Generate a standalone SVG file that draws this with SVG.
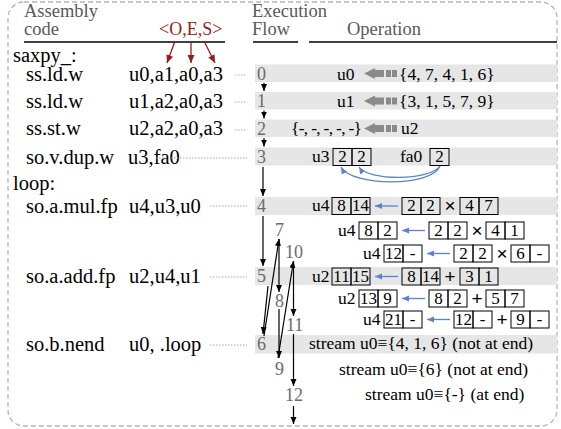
<svg xmlns="http://www.w3.org/2000/svg" width="561" height="429" viewBox="0 0 561 429">
<defs>
<style>
text{font-family:"Liberation Serif",serif}
.code{font-size:20.5px;fill:#000}
.hdr{font-size:18.5px;fill:#595959}
.num{font-size:18px;fill:#6b6b6b}
.op{font-size:17.5px;fill:#000}
.bx{font-size:17px;fill:#000;text-anchor:middle}
.sym{font-family:"Liberation Sans",sans-serif;font-size:19px;fill:#000;text-anchor:middle}
.box{fill:none;stroke:#000;stroke-width:1}
.band{fill:#e6e6e6}
.dot{stroke:#a8a8a8;stroke-width:1;stroke-dasharray:1.5 1.5}
.flow{stroke:#000;stroke-width:1.2;fill:none;marker-end:url(#ah)}
.blue{stroke:#5a82d4;stroke-width:1.3;fill:none;marker-end:url(#bh)}
.red{stroke:#9b1b1b;stroke-width:1.3;marker-end:url(#rh)}
.ul{stroke:#000;stroke-width:1.5}
.garrow{fill:#8a8a8a}
</style>
<marker id="ah" markerWidth="8" markerHeight="8" refX="7" refY="4" orient="auto" markerUnits="userSpaceOnUse"><path d="M0,1 L7,4 L0,7 z" fill="#000"/></marker>
<marker id="bh" markerWidth="8" markerHeight="8" refX="7" refY="4" orient="auto" markerUnits="userSpaceOnUse"><path d="M0,1 L7,4 L0,7 z" fill="#5a82d4"/></marker>
<marker id="rh" markerWidth="9" markerHeight="9" refX="8" refY="4.5" orient="auto" markerUnits="userSpaceOnUse"><path d="M0,1 L8,4.5 L0,8 z" fill="#9b1b1b"/></marker>
<g id="gar"><path d="M0,0 L11,-5.5 L11,-3.5 L20,-3.5 L20,3.5 L11,3.5 L11,5.5 Z"/><rect x="22" y="-3.5" width="5" height="7"/><rect x="28" y="-3.5" width="5" height="7"/></g>
</defs>

<rect x="8" y="2" width="549" height="424" rx="16" fill="none" stroke="#b5b5b5" stroke-width="1.3" stroke-dasharray="5 3"/>

<g id="header">
<text class="hdr" x="24" y="17">Assembly</text>
<text class="hdr" x="24" y="35">code</text>
<text x="159" y="35" style="font-size:18px;fill:#9b1b1b">&lt;O,E,S&gt;</text>
<text class="hdr" x="252" y="17">Execution</text>
<text class="hdr" x="252" y="35">Flow</text>
<text class="hdr" x="347" y="35">Operation</text>
<line class="ul" x1="24" y1="42" x2="225" y2="42"/>
<line class="ul" x1="253" y1="42" x2="298" y2="42"/>
<line class="ul" x1="309" y1="42" x2="557" y2="42"/>
</g>

<g id="bands">
<rect class="band" x="255" y="64.5" width="302" height="17.5"/>
<rect class="band" x="255" y="92" width="302" height="17.5"/>
<rect class="band" x="255" y="119.5" width="302" height="17.5"/>
<rect class="band" x="255" y="147.5" width="302" height="18"/>
<rect class="band" x="255" y="197" width="302" height="18"/>
<rect class="band" x="255" y="267" width="302" height="18"/>
<rect class="band" x="255" y="335" width="302" height="18.5"/>
</g>

<g id="code">
<text class="code" x="13" y="62">saxpy_:</text>
<g id="c0"><text class="code" x="26" y="81">ss.ld.w</text><text class="code" x="129" y="81">u0,a1,a0,a3</text></g>
<g id="c1"><text class="code" x="26" y="108">ss.ld.w</text><text class="code" x="129" y="108">u1,a2,a0,a3</text></g>
<g id="c2"><text class="code" x="26" y="135">ss.st.w</text><text class="code" x="129" y="135">u2,a2,a0,a3</text></g>
<g id="c3"><text class="code" x="26" y="164">so.v.dup.w</text><text class="code" x="128" y="164">u3,fa0</text></g>
<text class="code" x="13" y="190">loop:</text>
<g id="c4"><text class="code" x="26" y="213">so.a.mul.fp</text><text class="code" x="129" y="213">u4,u3,u0</text></g>
<g id="c5"><text class="code" x="26" y="283">so.a.add.fp</text><text class="code" x="129" y="283">u2,u4,u1</text></g>
<g id="c6"><text class="code" x="26" y="351">so.b.nend</text><text class="code" x="129" y="351">u0, .loop</text></g>
</g>

<g id="numbers">
<text class="num" x="257" y="80">0</text>
<text class="num" x="257" y="107">1</text>
<text class="num" x="257" y="135">2</text>
<text class="num" x="257" y="163">3</text>
<text class="num" x="257" y="212">4</text>
<text class="num" x="257" y="282">5</text>
<text class="num" x="257" y="350">6</text>
<text class="num" x="275" y="236">7</text>
<text class="num" x="275" y="307">8</text>
<text class="num" x="275" y="375">9</text>
<text class="num" x="285" y="258">10</text>
<text class="num" x="286" y="331">11</text>
<text class="num" x="285" y="401">12</text>
</g>

<g id="connectors">
<line class="red" x1="175" y1="41" x2="167" y2="63"/>
<line class="red" x1="191" y1="41" x2="191" y2="63"/>
<line class="red" x1="204" y1="41" x2="215" y2="63"/>
<line class="dot" x1="235" y1="75" x2="247" y2="75"/>
<line class="dot" x1="235" y1="102" x2="247" y2="102"/>
<line class="dot" x1="235" y1="130" x2="247" y2="130"/>
<line class="dot" x1="156" y1="158" x2="247" y2="158"/>
<line class="dot" x1="210" y1="206" x2="247" y2="206"/>
<line class="dot" x1="210" y1="277" x2="247" y2="277"/>
<line class="dot" x1="210" y1="345" x2="247" y2="345"/>
<line class="flow" x1="264" y1="83" x2="264" y2="91"/>
<line class="flow" x1="264" y1="110.5" x2="264" y2="118.5"/>
<line class="flow" x1="264" y1="138" x2="264" y2="146.5"/>
<line class="flow" x1="263" y1="167" x2="263" y2="196"/>
<line class="flow" x1="263" y1="216" x2="263" y2="266"/>
<line class="flow" x1="268" y1="286" x2="263" y2="334"/>
<line class="flow" x1="264" y1="336" x2="279" y2="239"/>
<line class="flow" x1="279" y1="239" x2="279" y2="292"/>
<line class="flow" x1="279" y1="309" x2="279" y2="358"/>
<line class="flow" x1="278" y1="358" x2="293.5" y2="261"/>
<line class="flow" x1="293.5" y1="261" x2="293.5" y2="316"/>
<line class="flow" x1="293.5" y1="334" x2="293.5" y2="386"/>
<line class="flow" x1="293.5" y1="406" x2="293.5" y2="424"/>
<path class="blue" d="M440,166 C432,187 352,187 341,167"/>
<path class="blue" d="M440,166 C430,181 368,181 359,167"/>
<line class="blue" x1="398" y1="206" x2="375" y2="206"/>
<line class="blue" x1="425" y1="230.5" x2="402" y2="230.5"/>
<line class="blue" x1="450" y1="253.5" x2="427" y2="253.5"/>
<line class="blue" x1="398" y1="276.5" x2="375" y2="276.5"/>
<line class="blue" x1="425" y1="298.5" x2="402" y2="298.5"/>
<line class="blue" x1="450" y1="319.5" x2="427" y2="319.5"/>
</g>

<g id="op0"><text class="op" x="337" y="80">u0</text><use href="#gar" class="garrow" x="364" y="73.5"/><text class="op" x="399" y="80">{4, 7, 4, 1, 6}</text></g>
<g id="op1"><text class="op" x="337" y="107">u1</text><use href="#gar" class="garrow" x="364" y="101"/><text class="op" x="399" y="107">{3, 1, 5, 7, 9}</text></g>
<g id="op2"><text class="op" x="291" y="134" textLength="71">{-, -, -, -, -}</text><use href="#gar" class="garrow" x="364" y="128.5"/><text class="op" x="401" y="134">u2</text></g>
<g id="op3"><text class="op" x="312" y="162">u3</text>
<rect class="box" x="333" y="148.5" width="19" height="17"/><rect class="box" x="352" y="148.5" width="19" height="17"/>
<text class="bx" x="342.5" y="162">2</text><text class="bx" x="361.5" y="162">2</text>
<text class="op" x="400" y="162">fa0</text>
<rect class="box" x="430" y="148.5" width="19" height="17"/><text class="bx" x="439.5" y="162">2</text></g>

<g id="op4"><text class="op" x="312" y="211">u4</text>
<rect class="box" x="332" y="197.5" width="19" height="17"/><rect class="box" x="351" y="197.5" width="19" height="17"/>
<text class="bx" x="341.5" y="211">8</text><text class="bx" x="360.5" y="211">14</text>
<rect class="box" x="402" y="197.5" width="19" height="17"/><rect class="box" x="421" y="197.5" width="19" height="17"/>
<text class="bx" x="411.5" y="211">2</text><text class="bx" x="430.5" y="211">2</text>
<text class="sym" x="450" y="212">×</text>
<rect class="box" x="460" y="197.5" width="19" height="17"/><rect class="box" x="479" y="197.5" width="19" height="17"/>
<text class="bx" x="469.5" y="211">4</text><text class="bx" x="488.5" y="211">7</text></g>

<g id="op7"><text class="op" x="338" y="235.5">u4</text>
<rect class="box" x="359" y="222" width="19" height="17"/><rect class="box" x="378" y="222" width="19" height="17"/>
<text class="bx" x="368.5" y="235.5">8</text><text class="bx" x="387.5" y="235.5">2</text>
<rect class="box" x="429" y="222" width="19" height="17"/><rect class="box" x="448" y="222" width="19" height="17"/>
<text class="bx" x="438.5" y="235.5">2</text><text class="bx" x="457.5" y="235.5">2</text>
<text class="sym" x="477" y="236.5">×</text>
<rect class="box" x="486" y="222" width="19" height="17"/><rect class="box" x="505" y="222" width="19" height="17"/>
<text class="bx" x="495.5" y="235.5">4</text><text class="bx" x="514.5" y="235.5">1</text></g>

<g id="op10"><text class="op" x="363" y="258.5">u4</text>
<rect class="box" x="384" y="245" width="19" height="17"/><rect class="box" x="403" y="245" width="19" height="17"/>
<text class="bx" x="393.5" y="258.5">12</text><text class="bx" x="412.5" y="258.5">-</text>
<rect class="box" x="454" y="245" width="19" height="17"/><rect class="box" x="473" y="245" width="19" height="17"/>
<text class="bx" x="463.5" y="258.5">2</text><text class="bx" x="482.5" y="258.5">2</text>
<text class="sym" x="502" y="259.5">×</text>
<rect class="box" x="511" y="245" width="19" height="17"/><rect class="box" x="530" y="245" width="19" height="17"/>
<text class="bx" x="520.5" y="258.5">6</text><text class="bx" x="539.5" y="258.5">-</text></g>

<g id="op5"><text class="op" x="312" y="281.5">u2</text>
<rect class="box" x="332" y="268" width="19" height="17"/><rect class="box" x="351" y="268" width="19" height="17"/>
<text class="bx" x="341.5" y="281.5">11</text><text class="bx" x="360.5" y="281.5">15</text>
<rect class="box" x="402" y="268" width="19" height="17"/><rect class="box" x="421" y="268" width="19" height="17"/>
<text class="bx" x="411.5" y="281.5">8</text><text class="bx" x="430.5" y="281.5">14</text>
<text class="sym" x="450" y="282.5">+</text>
<rect class="box" x="460" y="268" width="19" height="17"/><rect class="box" x="479" y="268" width="19" height="17"/>
<text class="bx" x="469.5" y="281.5">3</text><text class="bx" x="488.5" y="281.5">1</text></g>

<g id="op8"><text class="op" x="338" y="303.5">u2</text>
<rect class="box" x="359" y="290" width="19" height="17"/><rect class="box" x="378" y="290" width="19" height="17"/>
<text class="bx" x="368.5" y="303.5">13</text><text class="bx" x="387.5" y="303.5">9</text>
<rect class="box" x="429" y="290" width="19" height="17"/><rect class="box" x="448" y="290" width="19" height="17"/>
<text class="bx" x="438.5" y="303.5">8</text><text class="bx" x="457.5" y="303.5">2</text>
<text class="sym" x="477" y="304.5">+</text>
<rect class="box" x="486" y="290" width="19" height="17"/><rect class="box" x="505" y="290" width="19" height="17"/>
<text class="bx" x="495.5" y="303.5">5</text><text class="bx" x="514.5" y="303.5">7</text></g>

<g id="op11"><text class="op" x="363" y="324.5">u4</text>
<rect class="box" x="384" y="311" width="19" height="17"/><rect class="box" x="403" y="311" width="19" height="17"/>
<text class="bx" x="393.5" y="324.5">21</text><text class="bx" x="412.5" y="324.5">-</text>
<rect class="box" x="454" y="311" width="19" height="17"/><rect class="box" x="473" y="311" width="19" height="17"/>
<text class="bx" x="463.5" y="324.5">12</text><text class="bx" x="482.5" y="324.5">-</text>
<text class="sym" x="502" y="325.5">+</text>
<rect class="box" x="511" y="311" width="19" height="17"/><rect class="box" x="530" y="311" width="19" height="17"/>
<text class="bx" x="520.5" y="324.5">9</text><text class="bx" x="539.5" y="324.5">-</text></g>

<g id="op6"><text class="op" x="309" y="349">stream u0≡{4, 1, 6} (not at end)</text></g>
<g id="op9"><text class="op" x="339" y="375">stream u0≡{6} (not at end)</text></g>
<g id="op12"><text class="op" x="365" y="400">stream u0≡{-} (at end)</text></g>
</svg>
